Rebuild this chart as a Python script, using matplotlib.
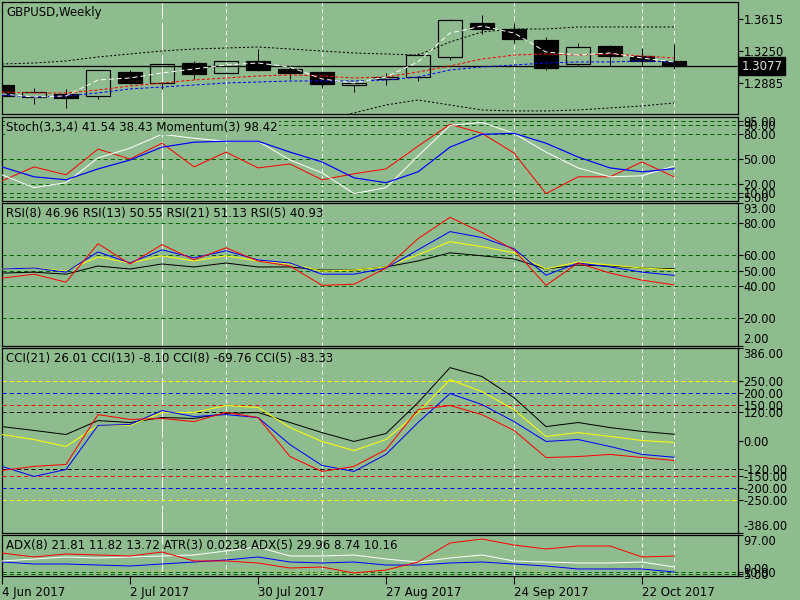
import numpy as np
import matplotlib
matplotlib.use('Agg')
import matplotlib.pyplot as plt

plt.rcParams['lines.scale_dashes'] = False
plt.rcParams['font.family'] = ['DejaVu Sans']

BG = '#8fbc8f'
LW = 0.72

# weekly bars
weeks = ['4 Jun 2017', '11 Jun 2017', '18 Jun 2017', '25 Jun 2017', '2 Jul 2017', '9 Jul 2017',
         '16 Jul 2017', '23 Jul 2017', '30 Jul 2017', '6 Aug 2017', '13 Aug 2017', '20 Aug 2017',
         '27 Aug 2017', '3 Sep 2017', '10 Sep 2017', '17 Sep 2017', '24 Sep 2017', '1 Oct 2017',
         '8 Oct 2017', '15 Oct 2017', '22 Oct 2017', '29 Oct 2017']
label_weeks = ['4 Jun 2017', '2 Jul 2017', '30 Jul 2017', '27 Aug 2017', '24 Sep 2017', '22 Oct 2017']
marked_weeks = ['9 Jul 2017', '23 Jul 2017', '13 Aug 2017', '24 Sep 2017', '22 Oct 2017', '29 Oct 2017']

open_ = [1.2862, 1.2722, 1.2760, 1.2737, 1.3010, 1.2885, 1.3113, 1.2999, 1.3136, 1.3045, 1.3010,
         1.2866, 1.2931, 1.2953, 1.3182, 1.3569, 1.3501, 1.3375, 1.3102, 1.3307, 1.3193, 1.3136]
high = [1.2874, 1.2828, 1.2817, 1.3033, 1.3033, 1.3102, 1.3136, 1.3140, 1.3273, 1.3067, 1.3012,
        1.2885, 1.2999, 1.3227, 1.3615, 1.3661, 1.3569, 1.3410, 1.3341, 1.3318, 1.3284, 1.3330]
low = [1.2725, 1.2645, 1.2600, 1.2703, 1.2874, 1.2817, 1.2931, 1.2995, 1.3022, 1.2931, 1.2828,
       1.2782, 1.2862, 1.2908, 1.3147, 1.3444, 1.3341, 1.3033, 1.3079, 1.3079, 1.3090, 1.3045]
close = [1.2737, 1.2779, 1.2714, 1.3033, 1.2885, 1.3102, 1.2988, 1.3136, 1.3033, 1.2999, 1.2874,
         1.2882, 1.2953, 1.3204, 1.3604, 1.3501, 1.3387, 1.3056, 1.3296, 1.3193, 1.3136, 1.3077]
last_price = 1.3077

ma_fast = [1.2760, 1.2725, 1.2737, 1.2919, 1.2942, 1.2999, 1.3045, 1.3090, 1.3113, 1.3068, 1.2931,
           1.2885, 1.2953, 1.3125, 1.3455, 1.3535, 1.3455, 1.3239, 1.3204, 1.3227, 1.3170, 1.3125]
ma_mid = [1.2782, 1.2771, 1.2771, 1.2805, 1.2851, 1.2885, 1.2919, 1.2942, 1.2965, 1.2976, 1.2965,
          1.2942, 1.2953, 1.3010, 1.3079, 1.3159, 1.3204, 1.3216, 1.3204, 1.3216, 1.3193, 1.3170]
ma_slow = [1.2748, 1.2725, 1.2737, 1.2771, 1.2817, 1.2839, 1.2862, 1.2885, 1.2896, 1.2908, 1.2908,
           1.2908, 1.2919, 1.2953, 1.3033, 1.3068, 1.3090, 1.3113, 1.3125, 1.3125, 1.3136, 1.3125]
band_up = [1.3102, 1.3113, 1.3136, 1.3182, 1.3216, 1.3250, 1.3273, 1.3284, 1.3296, 1.3273, 1.3250,
           1.3227, 1.3216, 1.3204, 1.3353, 1.3467, 1.3501, 1.3501, 1.3524, 1.3524, 1.3524, 1.3524]
band_dn = [np.nan] * 10 + [1.2460, 1.2543, 1.2634, 1.2691, 1.2634, 1.2577, 1.2566, 1.2566,
                           1.2577, 1.2600, 1.2623, 1.2657]

# Stoch / Momentum
stoch_main = [31.2, 15.9, 21.8, 51.2, 62.9, 79.4, 74.7, 71.2, 71.2, 48.8, 33.5, 8.8, 15.9, 53.5,
              90.0, 93.5, 80.6, 58.2, 39.4, 28.8, 30.0, 41.54]
stoch_sig = [40.6, 28.8, 25.3, 38.2, 48.8, 64.1, 70.0, 71.2, 71.2, 58.2, 46.5, 27.6, 21.8, 34.7,
             64.1, 79.4, 80.6, 68.8, 52.4, 39.4, 34.7, 38.43]
momentum = [24.1, 40.6, 31.2, 61.8, 50.0, 68.8, 40.6, 58.2, 39.4, 44.1, 25.3, 32.4, 38.2, 65.3,
            91.2, 80.6, 57.1, 8.8, 28.8, 28.8, 46.5, 28.8]
stoch_levels = [5, 10, 20, 50, 80, 90, 95]

# RSI
rsi8 = [51.0, 51.6, 49.0, 61.9, 54.8, 63.2, 58.1, 62.6, 56.8, 54.8, 47.7, 47.7, 51.6, 63.2, 74.8,
        71.0, 63.9, 47.1, 54.8, 52.3, 49.0, 46.96]
rsi13 = [51.0, 51.6, 49.7, 58.7, 54.8, 59.4, 56.1, 59.4, 56.1, 54.2, 49.7, 50.3, 52.3, 60.0, 68.4,
         65.2, 61.3, 51.0, 55.5, 53.5, 51.6, 50.55]
rsi21 = [48.4, 49.0, 47.7, 52.9, 51.0, 54.2, 52.3, 54.8, 52.3, 52.3, 50.3, 50.3, 52.3, 56.1, 61.3,
         59.4, 57.4, 51.0, 53.5, 52.9, 51.6, 51.13]
rsi5 = [45.2, 47.7, 42.6, 67.1, 54.2, 66.5, 56.8, 64.5, 56.1, 52.9, 40.6, 41.3, 51.6, 70.3, 83.9,
        74.2, 63.2, 40.6, 54.8, 48.4, 43.9, 40.93]
rsi_levels = [20, 40, 50, 60, 80]
rsi_ticks = [2, 20, 40, 50, 60, 80, 93]

# CCI
cci21 = [58, 42, 25, 83, 75, 96, 92, 113, 117, 75, 33, -4, 29, 158, 304, 267, 179, 58, 75, 54, 38, 26.01]
cci13 = [25, 4, -25, 63, 63, 117, 117, 146, 138, 54, -4, -42, 4, 117, 254, 204, 129, 17, 33, 17, 0, -8.10]
cci8 = [-108, -150, -121, 63, 67, 125, 100, 108, 96, -17, -104, -129, -58, 75, 196, 150, 79, -4, 4,
        -25, -58, -69.76]
cci5 = [-125, -108, -100, 108, 88, 92, 79, 117, 96, -67, -129, -108, -38, 129, 146, 108, 42, -71, -67,
        -58, -71, -83.33]
cci_levels = [250, 200, 150, 120]
cci_level_colors = ['yellow', 'blue', 'red', 'black']
cci_ticks = [-386, -250, -200, -150, -120, 0, 120, 150, 200, 250, 386]

# ADX / ATR
adx_red = [54.4, 45.0, 52.1, 49.7, 47.3, 56.8, 35.5, 35.5, 30.8, 18.9, 21.3, 7.1, 14.2, 33.1, 78.1,
           87.5, 73.3, 63.9, 71.0, 71.0, 45.0, 47.3]
adx_white = [35.5, 40.2, 45.0, 42.6, 45.0, 47.3, 49.7, 59.2, 68.6, 47.3, 47.3, 49.7, 40.2, 33.1, 42.6,
             49.7, 35.5, 33.1, 30.8, 30.8, 33.1, 21.3]
adx_blue = [33.1, 28.4, 28.4, 26.0, 23.7, 28.4, 33.1, 37.9, 45.0, 33.1, 30.8, 33.1, 26.0, 26.0, 30.8,
            33.1, 28.4, 23.7, 16.6, 16.6, 16.6, 9.5]
atr_line = [np.nan] * 3 + [9.5, 11.8, 11.8, 14.2, 14.2, 14.2, 9.5, 7.1, 7.1, 11.8, 26.0, 49.7, 42.6,
                           18.9, 7.1] + [np.nan] * 4
adx_levels = [5, 10]
adx_ticks = [0, 5, 10, 97]

x = np.arange(len(weeks))
fig = plt.figure(figsize=(8, 6), dpi=100, facecolor=BG)


def panel(top, bottom, ylim):
    ax = fig.add_axes([2 / 800, 1 - bottom / 600, 736 / 800, (bottom - top) / 600])
    ax.set_facecolor(BG)
    ax.set_xlim(0, 23)
    ax.set_ylim(*ylim)
    for s in ax.spines.values():
        s.set_linewidth(0.9)
        s.set_color('black')
    ax.yaxis.tick_right()
    ax.tick_params(axis='y', direction='out', length=3.5, width=0.8, labelsize=8.3, pad=0.5,
                   colors='black')
    ax.tick_params(axis='x', bottom=False, labelbottom=False)
    for w in marked_weeks:
        i = weeks.index(w)
        dash = (20, 3) if i == 5 else (3, 2.2)
        ax.axvline(i, color='white', lw=LW, dashes=dash, zorder=1)
    return ax


def label(ax, txt, box=False):
    kw = {}
    if box:
        kw['bbox'] = dict(fc=BG, ec='none', pad=0.5)
    ax.annotate(txt, xy=(0, 1), xycoords='axes fraction', xytext=(3, -3), textcoords='offset points',
                ha='left', va='top', fontsize=8.5, color='black', zorder=10, **kw)


def edge_labels(ax):
    lbls = ax.get_yticklabels()
    lbls[0].set_verticalalignment('bottom')
    lbls[-1].set_verticalalignment('top')


# main price panel
ax0 = panel(2, 114, (1.2531, 1.3809))
ax0.axhline(last_price, color='black', lw=LW * 1.3, zorder=1)
for i in x:
    o, h, l, c = open_[i], high[i], low[i], close[i]
    top_b, bot_b = max(o, c), min(o, c)
    ax0.vlines(i, top_b, h, color='black', lw=LW, zorder=2)
    ax0.vlines(i, l, bot_b, color='black', lw=LW, zorder=2)
    ax0.bar(i, top_b - bot_b, bottom=bot_b, width=0.72,
            facecolor='black' if c < o else 'none', edgecolor='black', lw=LW * 1.2, zorder=3)
ax0.plot(x, band_up, color='black', lw=LW, dashes=(1.5, 1.5), zorder=4)
ax0.plot(x, band_dn, color='black', lw=LW, dashes=(1.5, 1.5), zorder=4)
ax0.plot(x, ma_slow, color='blue', lw=LW, dashes=(2.2, 1.5), zorder=4)
ax0.plot(x, ma_mid, color='red', lw=LW, dashes=(2.2, 1.5), zorder=4)
ax0.plot(x, ma_fast, color='white', lw=LW, dashes=(3.5, 2.2), zorder=5)
ax0.set_yticks([1.2885, 1.3250, 1.3615])
ax0.set_yticklabels(['1.2885', '1.3250', '1.3615'])
ax0.annotate(f'{last_price:.4f}', xy=(1, last_price), xycoords=('axes fraction', 'data'),
             xytext=(2.5, 0), textcoords='offset points', ha='left', va='center', fontsize=8.5,
             color='#d8e4d8', annotation_clip=False,
             bbox=dict(boxstyle='square,pad=0.2', fc='black', ec='black'))
label(ax0, 'GBPUSD,Weekly')

# stochastic panel
ax1 = panel(117, 201, (0, 100))
for lv in stoch_levels:
    ax1.axhline(lv, color='#006400', lw=LW, dashes=(3, 2.2), zorder=1)
ax1.plot(x, momentum, color='red', lw=LW, zorder=3)
ax1.plot(x, stoch_main, color='white', lw=LW, zorder=3)
ax1.plot(x, stoch_sig, color='blue', lw=LW * 1.2, zorder=3)
ax1.set_yticks(stoch_levels)
ax1.set_yticklabels([f'{v:.2f}' for v in stoch_levels])
label(ax1, 'Stoch(3,3,4) 41.54 38.43 Momentum(3) 98.42', box=True)

# RSI panel
ax2 = panel(203, 346, (2, 93))
for lv in rsi_levels:
    ax2.axhline(lv, color='#006400', lw=LW, dashes=(3, 2.2), zorder=1)
ax2.plot(x, rsi21, color='black', lw=LW, zorder=3)
ax2.plot(x, rsi13, color='yellow', lw=LW, zorder=3)
ax2.plot(x, rsi8, color='blue', lw=LW, zorder=3)
ax2.plot(x, rsi5, color='red', lw=LW, zorder=3)
ax2.set_yticks(rsi_ticks)
ax2.set_yticklabels([f'{v:.2f}' for v in rsi_ticks])
edge_labels(ax2)
label(ax2, 'RSI(8) 46.96 RSI(13) 50.55 RSI(21) 51.13 RSI(5) 40.93')

# CCI panel
ax3 = panel(348, 533, (-386, 386))
for lv, col in zip(cci_levels, cci_level_colors):
    ax3.axhline(lv, color=col, lw=LW, dashes=(3, 2.2), zorder=1)
    ax3.axhline(-lv, color=col, lw=LW, dashes=(3, 2.2), zorder=1)
ax3.plot(x, cci21, color='black', lw=LW, zorder=3)
ax3.plot(x, cci13, color='yellow', lw=LW, zorder=3)
ax3.plot(x, cci8, color='blue', lw=LW, zorder=3)
ax3.plot(x, cci5, color='red', lw=LW, zorder=3)
ax3.set_yticks(cci_ticks)
ax3.set_yticklabels([f'{v:.2f}' for v in cci_ticks])
edge_labels(ax3)
label(ax3, 'CCI(21) 26.01 CCI(13) -8.10 CCI(8) -69.76 CCI(5) -83.33')

# ADX panel
ax4 = panel(535, 576, (0, 97))
for lv in adx_levels:
    ax4.axhline(lv, color='#006400', lw=LW, dashes=(3, 2.2), zorder=1)
ax4.plot(x, atr_line, color='#b0d040', lw=LW, dashes=(1.5, 1.5), zorder=2)
ax4.plot(x, adx_blue, color='blue', lw=LW, zorder=3)
ax4.plot(x, adx_white, color='white', lw=LW, zorder=3)
ax4.plot(x, adx_red, color='red', lw=LW, zorder=3)
ax4.set_yticks(adx_ticks)
ax4.set_yticklabels([f'{v:.2f}' for v in adx_ticks])
edge_labels(ax4)
label(ax4, 'ADX(8) 21.81 11.82 13.72 ATR(3) 0.0238 ADX(5) 29.96 8.74 10.16')

ax4.tick_params(axis='x', bottom=True, labelbottom=True, direction='out', length=6, width=0.8,
                labelsize=8.5, pad=1, colors='black')
ax4.set_xticks([weeks.index(w) for w in label_weeks])
ax4.set_xticklabels(label_weeks, ha='left')

fig.savefig('out.png', dpi=100, facecolor=BG)
